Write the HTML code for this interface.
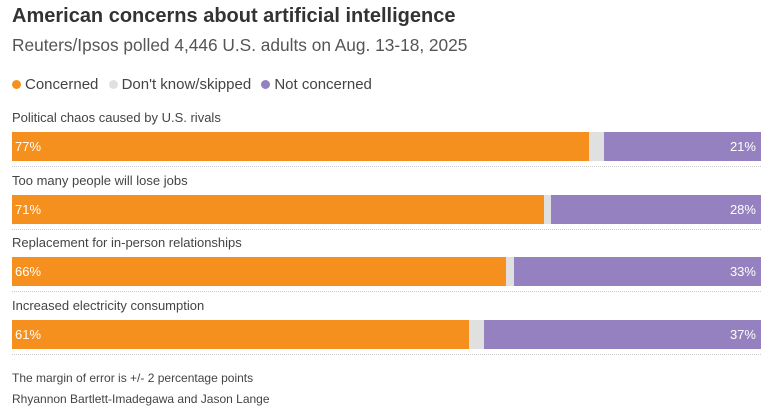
<!DOCTYPE html>
<html><head><meta charset="utf-8"><style>
body{margin:0;width:770px;height:412px;background:#fff;font-family:"Liberation Sans",sans-serif;color:#333;position:relative;overflow:hidden}
.abs{position:absolute;white-space:nowrap}
.lab{font-size:13px;color:#444}
.seg{position:absolute;height:29px}
.val{position:absolute;font-size:13px;color:#fff;top:7px}
.sep{position:absolute;left:12px;width:749px;border-top:1px dotted #ccc;height:0}
.dot{display:inline-block;width:9px;height:9px;border-radius:50%;margin-right:4px;vertical-align:0}
</style></head><body>
<div class="abs" style="left:12px;top:5px;font-size:20px;font-weight:bold;color:#333">American concerns about artificial intelligence</div>
<div class="abs" style="left:12px;top:35px;font-size:17.3px;color:#555">Reuters/Ipsos polled 4,446 U.S. adults on Aug. 13-18, 2025</div>
<div class="abs" style="left:12px;top:76px;font-size:15px;color:#444">
<span><span class="dot" style="background:#f5901e"></span>Concerned</span>
<span style="margin-left:6px"><span class="dot" style="background:#e0e0e0"></span>Don't know/skipped</span>
<span style="margin-left:6px"><span class="dot" style="background:#9581bf"></span>Not concerned</span>
</div>
<div id="chart"></div>
<div class="abs" style="left:12px;top:371px;font-size:12px;color:#444">The margin of error is +/- 2 percentage points</div>
<div class="abs" style="left:12px;top:392px;font-size:12px;color:#444">Rhyannon Bartlett-Imadegawa and Jason Lange</div>
<script>
const categories=["Political chaos caused by U.S. rivals","Too many people will lose jobs","Replacement for in-person relationships","Increased electricity consumption"];
const concerned=[77,71,66,61];
const notConcerned=[21,28,33,37];
const chart=document.getElementById('chart');
const X0=12,W=749;
function xs(v){return v/100*W;}
categories.forEach((c,i)=>{
  const top=132+i*62.5;
  const lab=document.createElement('div');
  lab.className='abs lab';lab.style.left='12px';lab.style.top=(top-22)+'px';lab.textContent=c;
  
  
  chart.appendChild(lab);
  const g=document.createElement('div');
  g.className='seg';g.style.left=X0+'px';g.style.width=W+'px';g.style.top=top+'px';g.style.background='#e0e0e0';
  
  
  chart.appendChild(g);
  const o=document.createElement('div');
  o.className='seg';o.style.left=X0+'px';o.style.width=xs(concerned[i])+'px';o.style.top=top+'px';o.style.background='#f5901e';
  
  
  o.innerHTML='<span class="val" style="left:3px">'+concerned[i]+'%</span>';
  chart.appendChild(o);
  const p=document.createElement('div');
  p.className='seg';p.style.left=(X0+W-xs(notConcerned[i]))+'px';p.style.width=xs(notConcerned[i])+'px';p.style.top=top+'px';p.style.background='#9581bf';
  
  
  p.innerHTML='<span class="val" style="right:5px">'+notConcerned[i]+'%</span>';
  chart.appendChild(p);
  const s=document.createElement('div');
  s.className='sep';s.style.top=(top+34)+'px';
  
  
  chart.appendChild(s);
});
</script>
</body></html>
